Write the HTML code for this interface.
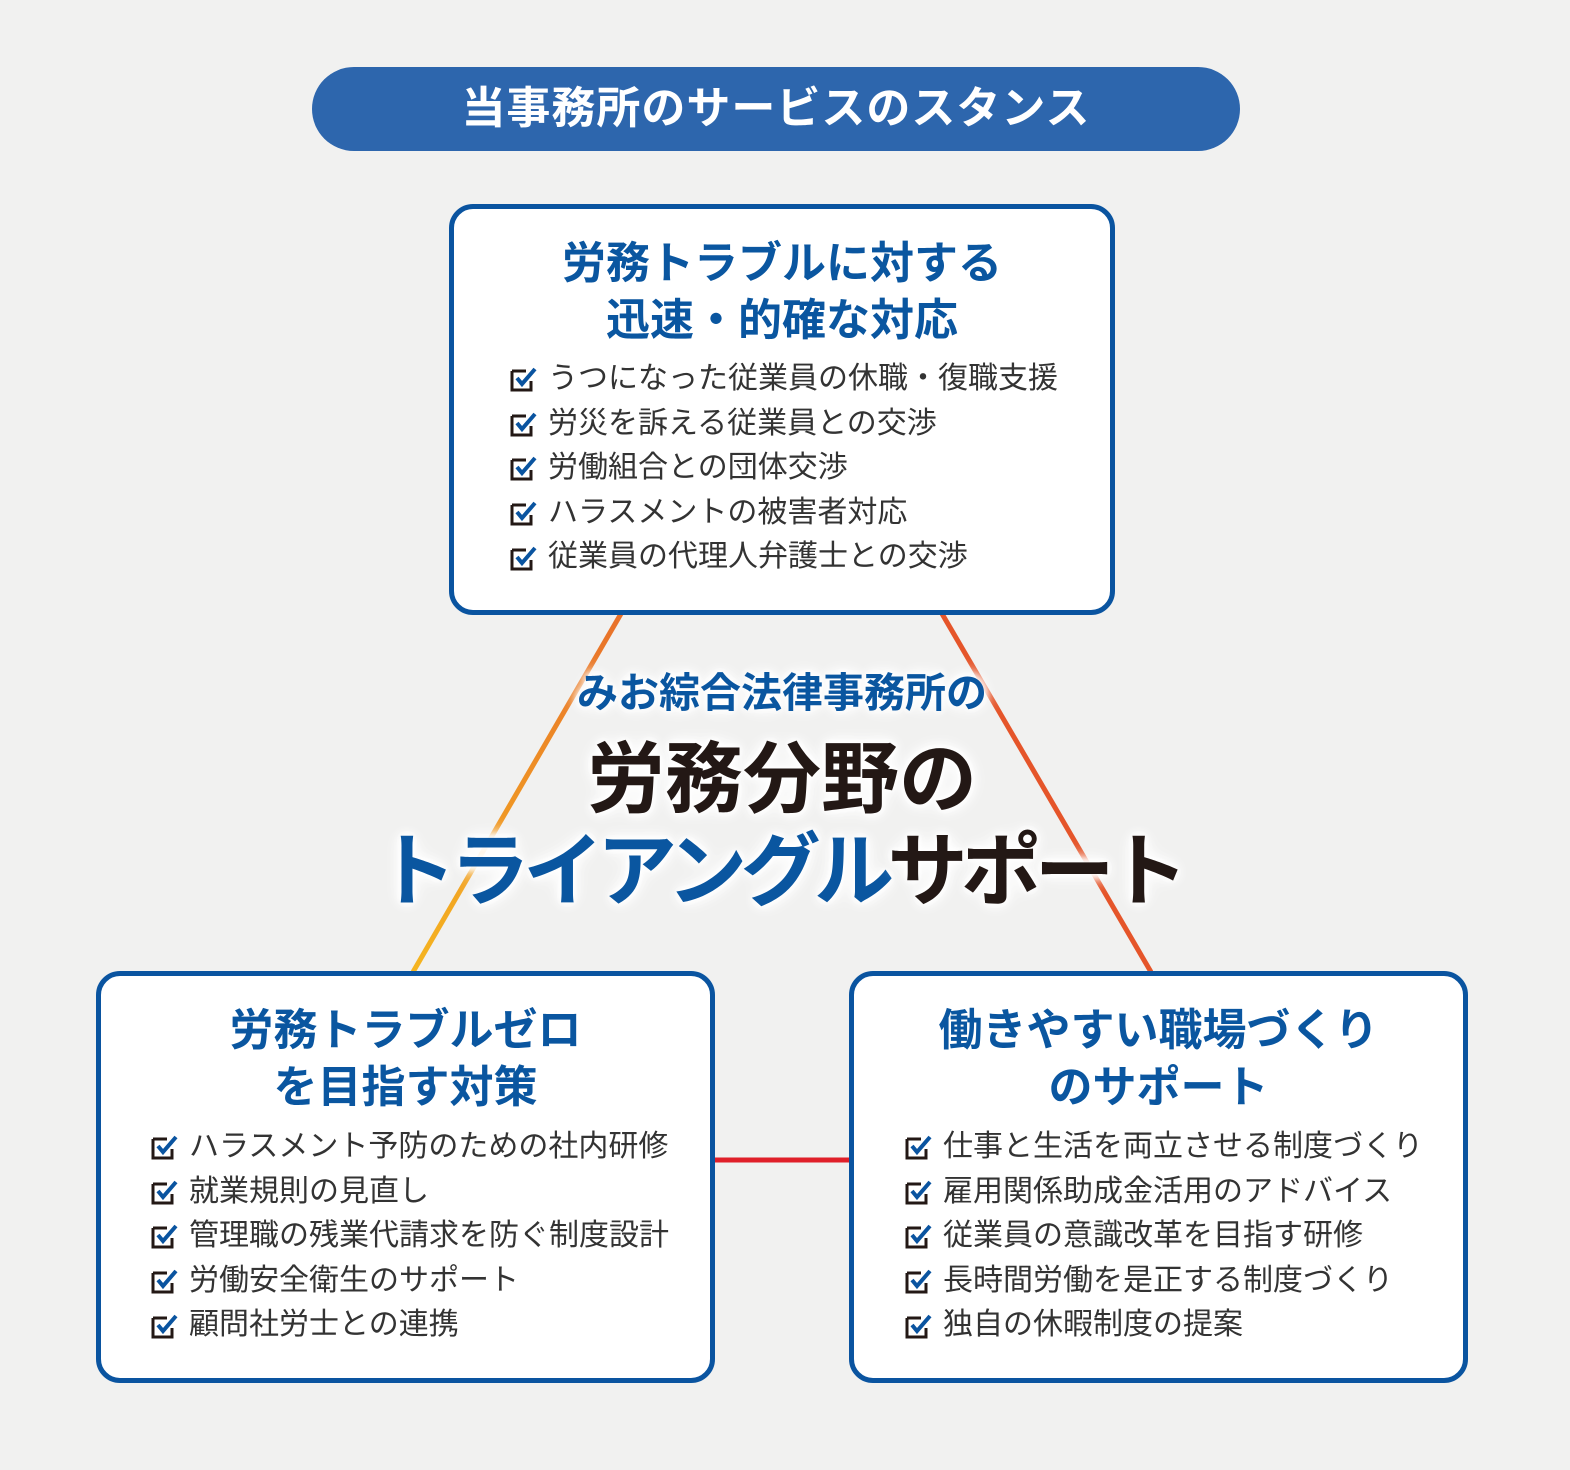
<!DOCTYPE html>
<html><head><meta charset="utf-8"><style>
body{margin:0;width:1570px;height:1470px;background:#f1f1f0;position:relative;overflow:hidden;font-family:"Liberation Sans","Noto Sans CJK JP",sans-serif}
.pill{position:absolute;left:312px;top:67px;width:928px;height:84px;border-radius:42px;background:#2d66ad;color:#fff;font-weight:bold;font-size:44px;text-align:center;line-height:84px;letter-spacing:1px}
.box{position:absolute;background:#fff;border:5px solid #0a54a0;border-radius:24px;box-sizing:border-box}
.ttl{position:absolute;left:0;right:0;text-align:center;color:#0a56a0;font-weight:bold;font-size:44px;line-height:57px}
.list{position:absolute;font-size:30px;color:#333;line-height:44.6px;white-space:nowrap}
.list div{display:flex;align-items:center}
.list svg{margin-right:8px;flex:none}
.c{position:absolute;left:0;width:1570px;text-align:center;font-weight:bold;text-shadow:0 0 8px #fff,0 0 8px #fff,0 0 12px #fff,0 0 16px #fff,0 0 20px #fff}
</style></head><body>
<svg width="1570" height="1470" style="position:absolute;left:0;top:0">
<defs><linearGradient id="g1" x1="0" y1="1" x2="0" y2="0"><stop offset="0" stop-color="#f5b520"/><stop offset="1" stop-color="#e8702a"/></linearGradient></defs>
<line x1="622" y1="612" x2="413" y2="972" stroke="url(#g1)" stroke-width="5"/>
<line x1="941" y1="612" x2="1151" y2="972" stroke="#e5552a" stroke-width="5"/>
<line x1="712" y1="1160" x2="852" y2="1160" stroke="#e0202a" stroke-width="5"/>
</svg>
<div class="pill">当事務所のサービスのスタンス</div>

<div class="box" style="left:449px;top:204px;width:666px;height:411px">
<div class="ttl" style="top:26px">労務トラブルに対する<br>迅速・的確な対応</div>
<div class="list" style="left:56px;top:148px">
<div><svg width="30" height="26" viewBox="0 0 30 26"><path d="M2 5H16M2 5V24H21V15" fill="none" stroke="#231815" stroke-width="3"/><path d="M7 12L12 18L25 3" fill="none" stroke="#0a54a0" stroke-width="4"/></svg>うつになった従業員の休職・復職支援</div>
<div><svg width="30" height="26" viewBox="0 0 30 26"><path d="M2 5H16M2 5V24H21V15" fill="none" stroke="#231815" stroke-width="3"/><path d="M7 12L12 18L25 3" fill="none" stroke="#0a54a0" stroke-width="4"/></svg>労災を訴える従業員との交渉</div>
<div><svg width="30" height="26" viewBox="0 0 30 26"><path d="M2 5H16M2 5V24H21V15" fill="none" stroke="#231815" stroke-width="3"/><path d="M7 12L12 18L25 3" fill="none" stroke="#0a54a0" stroke-width="4"/></svg>労働組合との団体交渉</div>
<div><svg width="30" height="26" viewBox="0 0 30 26"><path d="M2 5H16M2 5V24H21V15" fill="none" stroke="#231815" stroke-width="3"/><path d="M7 12L12 18L25 3" fill="none" stroke="#0a54a0" stroke-width="4"/></svg>ハラスメントの被害者対応</div>
<div><svg width="30" height="26" viewBox="0 0 30 26"><path d="M2 5H16M2 5V24H21V15" fill="none" stroke="#231815" stroke-width="3"/><path d="M7 12L12 18L25 3" fill="none" stroke="#0a54a0" stroke-width="4"/></svg>従業員の代理人弁護士との交渉</div>
</div></div>

<div class="box" style="left:96px;top:971px;width:619px;height:412px">
<div class="ttl" style="top:26px">労務トラブルゼロ<br>を目指す対策</div>
<div class="list" style="left:50px;top:149px">
<div><svg width="30" height="26" viewBox="0 0 30 26"><path d="M2 5H16M2 5V24H21V15" fill="none" stroke="#231815" stroke-width="3"/><path d="M7 12L12 18L25 3" fill="none" stroke="#0a54a0" stroke-width="4"/></svg>ハラスメント予防のための社内研修</div>
<div><svg width="30" height="26" viewBox="0 0 30 26"><path d="M2 5H16M2 5V24H21V15" fill="none" stroke="#231815" stroke-width="3"/><path d="M7 12L12 18L25 3" fill="none" stroke="#0a54a0" stroke-width="4"/></svg>就業規則の見直し</div>
<div><svg width="30" height="26" viewBox="0 0 30 26"><path d="M2 5H16M2 5V24H21V15" fill="none" stroke="#231815" stroke-width="3"/><path d="M7 12L12 18L25 3" fill="none" stroke="#0a54a0" stroke-width="4"/></svg>管理職の残業代請求を防ぐ制度設計</div>
<div><svg width="30" height="26" viewBox="0 0 30 26"><path d="M2 5H16M2 5V24H21V15" fill="none" stroke="#231815" stroke-width="3"/><path d="M7 12L12 18L25 3" fill="none" stroke="#0a54a0" stroke-width="4"/></svg>労働安全衛生のサポート</div>
<div><svg width="30" height="26" viewBox="0 0 30 26"><path d="M2 5H16M2 5V24H21V15" fill="none" stroke="#231815" stroke-width="3"/><path d="M7 12L12 18L25 3" fill="none" stroke="#0a54a0" stroke-width="4"/></svg>顧問社労士との連携</div>
</div></div>

<div class="box" style="left:849px;top:971px;width:619px;height:412px">
<div class="ttl" style="top:26px">働きやすい職場づくり<br>のサポート</div>
<div class="list" style="left:51px;top:149px">
<div><svg width="30" height="26" viewBox="0 0 30 26"><path d="M2 5H16M2 5V24H21V15" fill="none" stroke="#231815" stroke-width="3"/><path d="M7 12L12 18L25 3" fill="none" stroke="#0a54a0" stroke-width="4"/></svg>仕事と生活を両立させる制度づくり</div>
<div><svg width="30" height="26" viewBox="0 0 30 26"><path d="M2 5H16M2 5V24H21V15" fill="none" stroke="#231815" stroke-width="3"/><path d="M7 12L12 18L25 3" fill="none" stroke="#0a54a0" stroke-width="4"/></svg>雇用関係助成金活用のアドバイス</div>
<div><svg width="30" height="26" viewBox="0 0 30 26"><path d="M2 5H16M2 5V24H21V15" fill="none" stroke="#231815" stroke-width="3"/><path d="M7 12L12 18L25 3" fill="none" stroke="#0a54a0" stroke-width="4"/></svg>従業員の意識改革を目指す研修</div>
<div><svg width="30" height="26" viewBox="0 0 30 26"><path d="M2 5H16M2 5V24H21V15" fill="none" stroke="#231815" stroke-width="3"/><path d="M7 12L12 18L25 3" fill="none" stroke="#0a54a0" stroke-width="4"/></svg>長時間労働を是正する制度づくり</div>
<div><svg width="30" height="26" viewBox="0 0 30 26"><path d="M2 5H16M2 5V24H21V15" fill="none" stroke="#231815" stroke-width="3"/><path d="M7 12L12 18L25 3" fill="none" stroke="#0a54a0" stroke-width="4"/></svg>独自の休暇制度の提案</div>
</div></div>

<div class="c" style="top:666px;font-size:41px;line-height:54px;color:#0a56a0;left:-3px">みお綜合法律事務所の</div>
<div class="c" style="top:733px;font-size:78px;line-height:92px;color:#231815;left:-3px">労務分野の</div>
<div class="c" style="top:822px;font-size:80px;line-height:100px;color:#0a56a0;letter-spacing:-6.5px;left:-6px">トライアングル<span style="color:#231815">サポート</span></div>
</body></html>
